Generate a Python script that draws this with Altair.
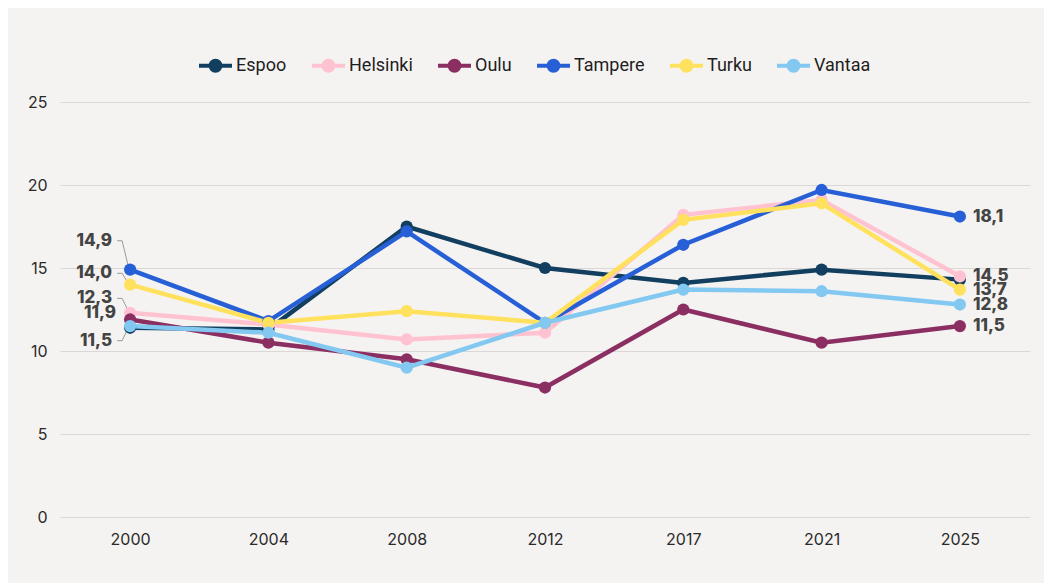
import altair as alt
import pandas as pd

years = ["2000", "2004", "2008", "2012", "2017", "2021", "2025"]
cities = ["Espoo", "Helsinki", "Oulu", "Tampere", "Turku", "Vantaa"]
colors = ["#123f60", "#ffc2d1", "#8b2f63", "#2760d6", "#ffe15e", "#82c8f0"]

espoo = [11.4, 11.3, 17.5, 15.0, 14.1, 14.9, 14.3]
helsinki = [12.3, 11.6, 10.7, 11.1, 18.2, 19.1, 14.5]
oulu = [11.9, 10.5, 9.5, 7.8, 12.5, 10.5, 11.5]
tampere = [14.9, 11.8, 17.2, 11.7, 16.4, 19.7, 18.1]
turku = [14.0, 11.7, 12.4, 11.7, 17.9, 18.9, 13.7]
vantaa = [11.5, 11.1, 9.0, 11.7, 13.7, 13.6, 12.8]

series = {"Espoo": espoo, "Helsinki": helsinki, "Oulu": oulu,
          "Tampere": tampere, "Turku": turku, "Vantaa": vantaa}

# labelled cities at the first and last year
left_cities = ["Tampere", "Turku", "Helsinki", "Oulu", "Vantaa"]
left_label_at = [16.64, 14.68, 13.17, 12.27, 10.62]   # where the label text sits (value units)
left_leader = [True, True, True, False, True]
right_cities = ["Tampere", "Helsinki", "Turku", "Vantaa", "Oulu"]

rows = []
for c in cities:
    for y, v in zip(years, series[c]):
        rows.append({"city": c, "year": y, "value": v})
df = pd.DataFrame(rows)


def fmt(v):
    return f"{v:.1f}".replace(".", ",")


left_df = pd.DataFrame({
    "city": left_cities,
    "year": years[0],
    "value": [series[c][0] for c in left_cities],
    "label_y": left_label_at,
    "leader": left_leader,
})
left_df["label"] = left_df["value"].map(fmt)

right_df = pd.DataFrame({
    "city": right_cities,
    "year": years[-1],
    "value": [series[c][-1] for c in right_cities],
})
right_df["label"] = right_df["value"].map(fmt)

FONT = "Inter"

x_scale = alt.Scale(type="point", padding=0.507)
x_enc = alt.X("year:N", sort=years, title=None, scale=x_scale,
              axis=alt.Axis(labelAngle=0, labelAlign="center", labelFontSize=16,
                            labelColor="#2a2a2a", labelPadding=14, grid=False,
                            domain=False, ticks=False, labelFont=FONT))
y_enc = alt.Y("value:Q", title=None,
              scale=alt.Scale(domain=[0, 25], nice=False, zero=True),
              axis=alt.Axis(values=[0, 5, 10, 15, 20, 25], labelFontSize=16,
                            labelColor="#2a2a2a", labelPadding=13, grid=True,
                            gridColor="#d9d8d6", gridWidth=1, domain=False,
                            ticks=False, labelFont=FONT))

legend_symbol = ("M -1 0 L 1 0 M 0.3 0 A 0.3 0.3 0 1 1 -0.3 0 "
                 "A 0.3 0.3 0 1 1 0.3 0 Z")

color_enc = alt.Color("city:N", sort=cities,
                      scale=alt.Scale(domain=cities, range=colors),
                      legend=alt.Legend(title=None, orient="none", direction="horizontal",
                                        legendX=137, legendY=-55,
                                        symbolType=legend_symbol, symbolSize=1089,
                                        symbolStrokeWidth=4, labelFontSize=18,
                                        labelColor="#1e1e1e", labelFont="Roboto",
                                        labelOffset=2, columnPadding=17,
                                        symbolOffset=0))

x_plain = alt.X("year:N", sort=years, scale=x_scale)

lead_h = alt.Chart(left_df).transform_filter("datum.leader").mark_rule(
    color="#9a9a9a", strokeWidth=1, xOffset=-13, x2Offset=-8
).encode(x=x_plain, x2="year:N", y="label_y:Q", y2="label_y:Q")
lead_d = alt.Chart(left_df).transform_filter("datum.leader").mark_rule(
    color="#9a9a9a", strokeWidth=1, xOffset=-8, x2Offset=-1
).encode(x=x_plain, x2="year:N", y="label_y:Q", y2="value:Q")

lines = alt.Chart(df).mark_line(strokeWidth=4.5).encode(
    x=x_enc, y=y_enc, color=color_enc, order=alt.Order("year:N")
)
points = alt.Chart(df).mark_circle(size=150, opacity=1).encode(
    x=x_plain, y="value:Q", color=alt.Color("city:N", sort=cities, legend=None)
)

text_style = dict(fontSize=17, fontWeight=800, color="#444444", font=FONT, baseline="middle")

left_text_a = alt.Chart(left_df).transform_filter("datum.leader").mark_text(
    align="right", dx=-18, **text_style
).encode(x=x_plain, y="label_y:Q", text="label:N")
left_text_b = alt.Chart(left_df).transform_filter("!datum.leader").mark_text(
    align="right", dx=-14, **text_style
).encode(x=x_plain, y="label_y:Q", text="label:N")
right_text = alt.Chart(right_df).mark_text(
    align="left", dx=13, **text_style
).encode(x=x_plain, y="value:Q", text="label:N")

chart = alt.layer(
    lines, lead_h, lead_d, points, left_text_a, left_text_b, right_text
).properties(
    width=970, height=415,
    background="#f5f3f1",
    padding={"left": 52, "top": 94, "right": 14, "bottom": 66},
    autosize=alt.AutoSizeParams(type="none"),
).configure_view(strokeWidth=0)

chart.save("out.html", embed_options={"renderer": "svg", "actions": False})
